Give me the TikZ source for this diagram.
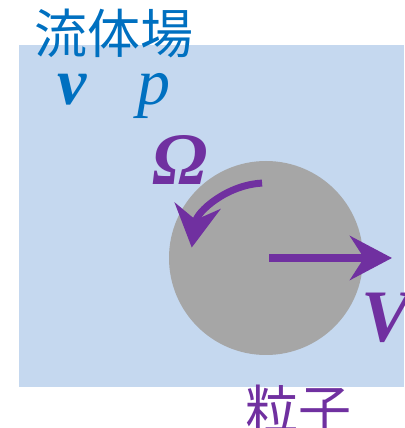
\documentclass[tikz,border=0pt]{standalone}
\usepackage{fontspec}
\usetikzlibrary{arrows.meta}
\newfontfamily\cjk{Noto Sans CJK JP}
\newfontfamily\symfont{Liberation Serif}
\definecolor{fieldblue}{HTML}{C5D8EF}
\definecolor{textblue}{HTML}{0070C0}
\definecolor{partgray}{HTML}{A6A6A6}
\definecolor{partpurple}{HTML}{7030A0}
\tikzset{
  cjklabel/.style={font=\cjk\fontsize{53}{53}\selectfont, inner sep=0pt},
  smallsym/.style={font=\symfont\fontsize{66}{66}\selectfont\itshape, inner sep=0pt, anchor=base},
  bigsym/.style={font=\symfont\fontsize{74}{74}\selectfont\bfseries\itshape, inner sep=0pt, anchor=base},
  motion/.style={draw=partpurple, line width=8pt,
    -{Stealth[length=42pt,width=44pt,inset=14pt]}},
  spin/.style={draw=partpurple, line width=7pt,
    -{Stealth[length=42pt,width=46pt,inset=14pt]}}
}
\begin{document}
\begin{tikzpicture}[x=1pt,y=1pt]
\useasboundingbox (0,0) rectangle (404,428);
\fill[fieldblue] (19,41) rectangle (404,383);
\node[cjklabel, text=textblue] (fluid) at (114,395) {流体場};
\node[smallsym, text=textblue] (vel) at (72,323) {\bfseries v};
\node[smallsym, text=textblue] (pres) at (154,323) {p};
\node[circle, fill=partgray, minimum size=194pt, inner sep=0pt] (particle) at (266,170) {};
\coordinate (vstart) at (269,170);
\coordinate (vend) at (392,170);
\draw[motion] (vstart) -- (vend);
\draw[spin] (particle.center) ++(93:75) arc[start angle=93, end angle=172, radius=75];
\node[bigsym, text=partpurple] (omega) at (180,243) {Ω};
\node[bigsym, text=partpurple] (bigv) at (386,86) {V};
\node[cjklabel, text=partpurple] (ptext) at (298,19) {粒子};
\end{tikzpicture}
\end{document}
